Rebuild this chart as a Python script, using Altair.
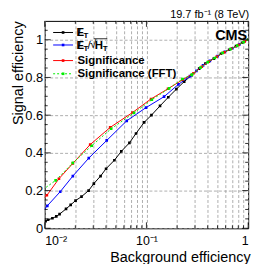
import altair as alt
import pandas as pd

# ---- data ----
met_x = [0.0102, 0.0108, 0.0119, 0.0130, 0.0140, 0.0162, 0.0180, 0.0201, 0.0230, 0.0270,
         0.0304, 0.0354, 0.0401, 0.0484, 0.0566, 0.0680, 0.0790, 0.0950, 0.112, 0.136,
         0.164, 0.197, 0.235, 0.279, 0.33, 0.38, 0.46, 0.54, 0.65, 0.76, 0.87, 1.0]
met_y = [0.038, 0.045, 0.053, 0.063, 0.075, 0.103, 0.124, 0.147, 0.168, 0.200,
         0.237, 0.277, 0.316, 0.361, 0.408, 0.453, 0.503, 0.562, 0.600, 0.649,
         0.695, 0.738, 0.778, 0.812, 0.847, 0.874, 0.900, 0.926, 0.947, 0.966, 0.984, 1.0]

sig_ht_x = [0.0096, 0.0106, 0.0142, 0.0189, 0.0271, 0.0407, 0.0640, 0.0990, 0.149, 0.206,
            0.268, 0.31, 0.36, 0.42, 0.50, 0.59, 0.70, 0.82, 1.0]
sig_ht_y = [0.092, 0.119, 0.194, 0.277, 0.372, 0.466, 0.570, 0.640, 0.698, 0.763,
            0.807, 0.835, 0.864, 0.888, 0.913, 0.936, 0.955, 0.975, 1.0]

sig_x = [0.0096, 0.0105, 0.0138, 0.0189, 0.0280, 0.0440, 0.0730, 0.111, 0.163, 0.227,
         0.29, 0.35, 0.41, 0.49, 0.58, 0.68, 0.80, 0.92, 1.0]
sig_y = [0.155, 0.175, 0.263, 0.344, 0.444, 0.535, 0.614, 0.686, 0.740, 0.788,
         0.822, 0.857, 0.884, 0.910, 0.933, 0.952, 0.972, 0.990, 1.0]

fft_x = [0.0096, 0.0128, 0.0189, 0.0290, 0.0450, 0.0755, 0.113, 0.167, 0.226,
         0.28, 0.34, 0.40, 0.47, 0.56, 0.67, 0.78, 0.90, 1.0]
fft_y = [0.205, 0.254, 0.347, 0.438, 0.528, 0.612, 0.682, 0.742, 0.792,
         0.815, 0.852, 0.881, 0.903, 0.930, 0.950, 0.969, 0.987, 1.0]

x_major = [0.01, 0.1, 1.0]
x_minor = [0.02, 0.03, 0.04, 0.05, 0.06, 0.07, 0.08, 0.09,
           0.2, 0.3, 0.4, 0.5, 0.6, 0.7, 0.8, 0.9]
y_major = [0.0, 0.2, 0.4, 0.6, 0.8, 1.0]
y_minor = [0.05, 0.1, 0.15, 0.25, 0.3, 0.35, 0.45, 0.5, 0.55, 0.65, 0.7, 0.75,
           0.85, 0.9, 0.95, 1.05]

series = [
    ("MET", met_x, met_y, "#000000", None),
    ("METsqrtHT", sig_ht_x, sig_ht_y, "#0000ff", None),
    ("Significance", sig_x, sig_y, "#ff0000", None),
    ("Significance (FFT)", fft_x, fft_y, "#00ee00", [2, 2]),
]

W, H = 205, 209
FONT = "Liberation Sans"

xscale = alt.Scale(type="log", domain=[0.01, 1.0], nice=False)
yscale = alt.Scale(domain=[0, 1.1], nice=False, zero=False)

xaxis = alt.Axis(
    values=x_major + x_minor, grid=True, gridColor="#9a9a9a", gridDash=[3, 2],
    gridWidth=0.8, ticks=False, tickSize=0, domain=False,
    labelExpr="datum.value == 0.01 ? '10⁻²' : (datum.value == 0.1 ? '10⁻¹' : (datum.value == 1 ? '1' : ''))",
    labelFont=FONT, labelFontSize=12.5, labelColor="#000", labelPadding=6,
    title="Background efficiency", titleFont=FONT, titleFontSize=14.5,
    titleFontWeight="normal", titleColor="#000", titleAnchor="end", titleAlign="right",
    titleBaseline="alphabetic", titleX=207, titleY=33,
)
yaxis = alt.Axis(
    values=y_major, grid=True, gridColor="#9a9a9a", gridDash=[3, 2], gridWidth=0.8,
    ticks=False, tickSize=0, domain=False,
    labelExpr="format(datum.value, '~g')",
    labelFont=FONT, labelFontSize=13, labelColor="#000", labelPadding=2,
    title="Signal efficiency", titleFont=FONT, titleFontSize=14.5,
    titleFontWeight="normal", titleColor="#000", titleAngle=270, titleAnchor="end",
    titleAlign="right", titleBaseline="alphabetic", titleX=-22.5, titleY=0,
)

X = alt.X("x:Q", scale=xscale, axis=xaxis)
Y = alt.Y("y:Q", scale=yscale, axis=yaxis)

layers = []
for name, xs, ys, col, dash in series:
    df = pd.DataFrame({"x": xs, "y": ys})
    lkw = dict(color=col, strokeWidth=1, clip=True)
    if dash:
        lkw["strokeDash"] = dash
    layers.append(alt.Chart(df).mark_line(**lkw).encode(x=X, y=Y))
    pts = df[df["x"] >= 0.01]
    layers.append(alt.Chart(pts).mark_point(filled=True, color=col, size=7, opacity=1,
                                            shape="square", clip=True).encode(x=X, y=Y))

# inward ticks (ROOT style) on all four sides
def xticks(vals, ln):
    d = pd.DataFrame({"x": vals})
    b = alt.Chart(d).mark_rule(color="#000", strokeWidth=0.8).encode(
        x=X, y=alt.value(H), y2=alt.value(H - ln))
    t = alt.Chart(d).mark_rule(color="#000", strokeWidth=0.8).encode(
        x=X, y=alt.value(0), y2=alt.value(ln))
    return [b, t]

def yticks(vals, ln):
    d = pd.DataFrame({"y": vals})
    l = alt.Chart(d).mark_rule(color="#000", strokeWidth=0.8).encode(
        y=Y, x=alt.value(0), x2=alt.value(ln))
    r = alt.Chart(d).mark_rule(color="#000", strokeWidth=0.8).encode(
        y=Y, x=alt.value(W - ln), x2=alt.value(W))
    return [l, r]

layers += xticks(x_major, 6) + xticks(x_minor, 3) + yticks(y_major, 6) + yticks(y_minor, 3)

# custom legend
one = pd.DataFrame({"a": [0]})
leg_rows = [11.7, 24.3, 40.0, 53.3]
for (name, xs, ys, col, dash), ry in zip(series, leg_rows):
    rkw = dict(color=col, strokeWidth=1)
    if dash:
        rkw["strokeDash"] = dash
    layers.append(alt.Chart(one).mark_rule(**rkw).encode(
        x=alt.value(8.5), x2=alt.value(28.5), y=alt.value(ry)))
    layers.append(alt.Chart(one).mark_point(filled=True, color=col, size=7, opacity=1,
                                            shape="square").encode(
        x=alt.value(18.5), y=alt.value(ry)))

def txt(s, x, y, size=11.5, bold=True, align="left"):
    return alt.Chart(one).mark_text(
        text=s, font=FONT, fontSize=size, fontWeight="bold" if bold else "normal",
        color="#000", align=align, baseline="middle").encode(x=alt.value(x), y=alt.value(y))

# row 1: MET
layers += [txt("E", 32, 12.2), txt("/", 33.2, 12.2, 11), txt("T", 39.2, 15.5, 8)]
# row 2: MET / sqrt(HT)
layers += [txt("E", 32, 25.0), txt("/", 33.2, 25.0, 11), txt("T", 39.2, 28.3, 8),
           txt("/", 43.0, 25.0, 11.5, False), txt("√", 45.5, 24.5, 11.5, False),
           txt("H", 50.5, 25.0), txt("T", 58.5, 28.3, 8)]
layers.append(alt.Chart(one).mark_rule(color="#000", strokeWidth=0.8).encode(
    x=alt.value(49.5), x2=alt.value(63), y=alt.value(18.0)))
layers += [txt("Significance", 33, 40.5), txt("Significance (FFT)", 33, 53.5)]

# CMS label and luminosity text
layers.append(txt("CMS", 204, 15.5, 14.5, True, "right"))
layers.append(txt("19.7 fb⁻¹ (8 TeV)", 206, -6.3, 11, False, "right"))

chart = alt.layer(*layers).properties(
    width=W, height=H,
    padding={"left": 37, "top": 12, "right": 22, "bottom": 35},
    autosize=alt.AutoSizeParams(type="none"),
    background="white",
).configure_view(stroke="#000", strokeWidth=1)

chart.save("out.html", embed_options={"renderer": "svg", "actions": False})
